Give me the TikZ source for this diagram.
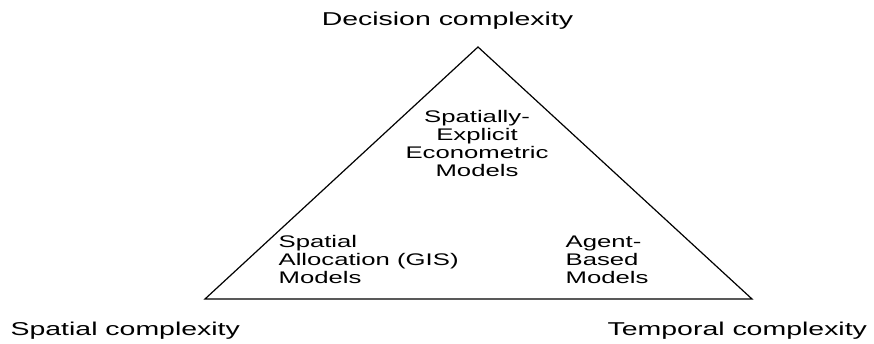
\documentclass[tikz,border=0pt]{standalone}
\usepackage{fontspec}
\setmainfont[FakeStretch=1.53]{Liberation Sans}
\begin{document}
\begin{tikzpicture}[x=1pt, y=-1pt, line width=1.2pt,
    axislabel/.style={inner sep=0pt, font=\fontsize{18.6}{22}\selectfont},
    modellabel/.style={inner sep=0pt, align=left, font=\fontsize{16.8}{18}\selectfont}]
    \useasboundingbox (0,0) rectangle (874,344);
    \coordinate (apex) at (478,47);
    \coordinate (left) at (205,299);
    \coordinate (right) at (752,299);
\draw (left)--(apex)--(right)--cycle;
\node[axislabel, anchor=base] (decision) at (447.5,26) {Decision complexity};
\node[axislabel, anchor=base west] (spatial) at (10,335) {Spatial complexity};
\node[axislabel, anchor=base west] (temporal) at (607,335) {Temporal complexity};

\node[modellabel, align=center, anchor=north] (econ) at (477,110) {Spatially-\\Explicit\\Econometric\\Models};
\node[modellabel, anchor=north west] (gis) at (278,235) {Spatial\\Allocation (GIS)\\Models};
\node[modellabel, anchor=north west] (abm) at (565,235) {Agent-\\Based\\Models};
\end{tikzpicture}
\end{document}
